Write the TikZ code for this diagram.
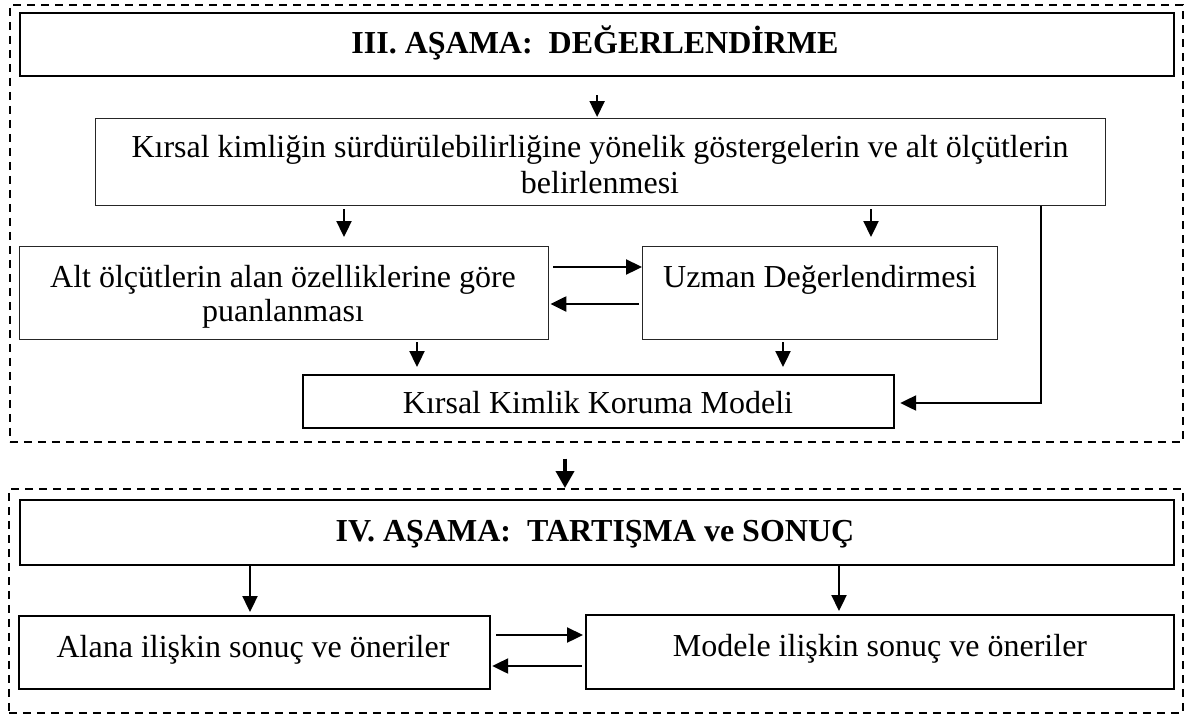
\documentclass[tikz,border=0pt]{standalone}
\usepackage{fontspec}
\setmainfont{Liberation Serif}
\usetikzlibrary{arrows.meta}
\begin{document}
\begin{tikzpicture}[x=1pt,y=-1pt,
  frame/.style={draw, dash pattern=on 8pt off 6pt, line width=1.5pt, inner sep=0pt, anchor=north west},
  hbox/.style={draw, line width=2.2pt, inner sep=0pt, anchor=north west},
  tbox/.style={draw=black!85, line width=1.4pt, inner sep=0pt, anchor=north west},
  lbl/.style={anchor=base, inner sep=0pt, font=\fontsize{32}{36}\selectfont},
  ttl/.style={anchor=base, inner sep=0pt, font=\fontsize{32}{36}\selectfont\bfseries},
  arr/.style={line width=2.3pt, -{Triangle[length=16pt,width=15pt]}},
  bigarr/.style={line width=3.8pt, -{Triangle[length=17pt,width=18pt]}}
]
\useasboundingbox (0,0) rectangle (1190,718);

% frames
\node[frame, minimum width=1173pt, minimum height=437pt] (f3) at (9,4) {};
\node[frame, minimum width=1174pt, minimum height=224pt] (f4) at (8,488) {};

% boxes
\node[hbox, minimum width=1154pt, minimum height=63pt] (t3) at (19,12) {};
\node[tbox, minimum width=1010pt, minimum height=87pt] (b2) at (95,118) {};
\node[tbox, minimum width=529pt, minimum height=93pt] (alt) at (19,246) {};
\node[tbox, minimum width=355pt, minimum height=93pt] (uz) at (642,246) {};
\node[hbox, minimum width=591pt, minimum height=53pt] (km) at (302,374) {};
\node[hbox, minimum width=1154pt, minimum height=65pt] (t4) at (19,499) {};
\node[hbox, minimum width=471pt, minimum height=73pt] (al) at (18,615) {};
\node[hbox, minimum width=588pt, minimum height=74pt] (mo) at (585,614) {};

% texts
\node[ttl] (t3l) at (595,53) {III. AŞAMA:\ \ DEĞERLENDİRME};
\node[lbl] (b2l1) at (600,157) {Kırsal kimliğin sürdürülebilirliğine yönelik göstergelerin ve alt ölçütlerin};
\node[lbl] (b2l2) at (600,193) {belirlenmesi};
\node[lbl] (altl1) at (283,287) {Alt ölçütlerin alan özelliklerine göre};
\node[lbl] (altl2) at (283,321) {puanlanması};
\node[lbl] (uzl) at (820,287) {Uzman Değerlendirmesi};
\node[lbl] (kml) at (598,413) {Kırsal Kimlik Koruma Modeli};
\node[ttl] (t4l) at (595,541) {IV. AŞAMA:\ \ TARTIŞMA ve SONUÇ};
\node[lbl] (all) at (253,657) {Alana ilişkin sonuç ve öneriler};
\node[lbl] (mol) at (880,656) {Modele ilişkin sonuç ve öneriler};

% helper coordinates
\coordinate (x1) at (344,0);
\coordinate (x2) at (871,0);
\coordinate (x3) at (417,0);
\coordinate (x4) at (783,0);
\coordinate (x5) at (1041,0);
\coordinate (x6) at (565,0);
\coordinate (x7) at (250,0);
\coordinate (x8) at (839,0);
\coordinate (y1) at (0,267);
\coordinate (y2) at (0,304);
\coordinate (y3) at (0,403);
\coordinate (y4) at (0,635);
\coordinate (y5) at (0,666);

% connectors
\draw[arr, shorten <=18pt, shorten >=1pt] (t3.south) -- (t3.south |- b2.north);
\draw[arr, shorten <=3pt, shorten >=9pt] (x1 |- b2.south) -- (x1 |- alt.north);
\draw[arr, shorten <=3pt, shorten >=9pt] (x2 |- b2.south) -- (x2 |- uz.north);
\draw[arr, shorten <=2pt, shorten >=7pt] (x3 |- alt.south) -- (x3 |- km.north);
\draw[arr, shorten <=2pt, shorten >=7pt] (x4 |- uz.south) -- (x4 |- km.north);
\draw[arr, shorten >=5pt] (x5 |- b2.south) -- (x5 |- y3) -- (y3 -| km.east);
\draw[arr, shorten <=4pt] (y1 -| alt.east) -- (y1 -| uz.west);
\draw[arr, shorten <=3pt, shorten >=1pt] (y2 -| uz.west) -- (y2 -| alt.east);
\draw[bigarr, shorten <=16pt] (x6 |- f3.south) -- (x6 |- f4.north);
\draw[arr, shorten >=3pt] (x7 |- t4.south) -- (x7 |- al.north);
\draw[arr, shorten >=3pt] (x8 |- t4.south) -- (x8 |- mo.north);
\draw[arr, shorten <=5pt, shorten >=2pt] (y4 -| al.east) -- (y4 -| mo.west);
\draw[arr, shorten <=3pt, shorten >=1pt] (y5 -| mo.west) -- (y5 -| al.east);
\end{tikzpicture}
\end{document}
